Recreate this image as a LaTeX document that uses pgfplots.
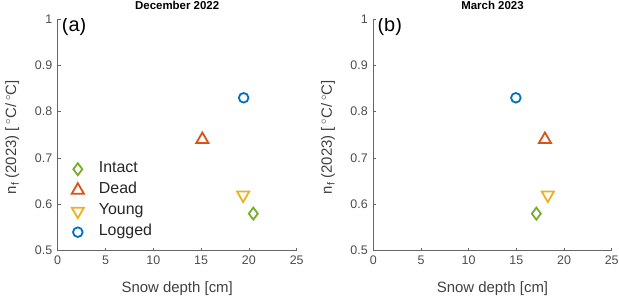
\documentclass[border=0pt]{standalone}
\usepackage{pgfplots}
\pgfplotsset{compat=1.18}
\usepackage{fontspec}
\setmainfont{Liberation Sans}
\definecolor{mblue}{rgb}{0,0.447,0.741}
\definecolor{mred}{rgb}{0.85,0.325,0.098}
\definecolor{myellow}{rgb}{0.929,0.694,0.125}
\definecolor{mgreen}{rgb}{0.466,0.674,0.188}
\pgfplotsset{
 every axis title/.style={at={(0.5,1)},anchor=base,yshift=9bp,font=\bfseries\fontsize{11.5}{13}\selectfont},
 every axis title shift/.style={yshift=0pt},
 myax/.style={
  scale only axis, width=239bp, height=231.7bp,
  xmin=0,xmax=25,ymin=0.5,ymax=1,
  xtick={0,5,10,15,20,25}, ytick={0.5,0.6,0.7,0.8,0.9,1},
  axis x line*=bottom, axis y line*=left,
  tick align=inside, major tick length=3bp,
  axis line style={black!60, line width=0.6bp},
  tick style={black!60,line width=0.6bp},
  ticklabel style={font=\fontsize{12.5}{13}\selectfont, text=black!70},
  yticklabel style={xshift=-2bp},
  xticklabel style={yshift=-2bp},
  /pgf/number format/assume math mode=true,
  xlabel={Snow depth [cm]},
  ylabel={n\textsubscript{f} (2023) [\,\textsuperscript{$\circ$}C/\,\textsuperscript{$\circ$}C]},
  label style={font=\fontsize{15}{16}\selectfont, text=black!75},
  xlabel style={at={(axis description cs:0.5,-0.163)},anchor=center},
  ylabel style={at={(axis description cs:-0.19,0.49)},anchor=center},
  every axis plot/.append style={only marks, line width=1.8bp},
 },
 intact/.style={mark=diamond, mark size=6bp, color=mgreen},
 dead/.style={mark=triangle, mark size=7bp, color=mred},
 young/.style={mark=triangle, mark size=7bp, mark options={rotate=180}, color=myellow},
 logged/.style={mark=o, mark size=4.8bp, color=mblue},
}
\begin{document}
\begin{tikzpicture}[x=1bp,y=1bp]
\begin{axis}[myax, at={(57.7bp,46.3bp)}, anchor=south west, title={December 2022},
  legend style={at={(axis description cs:0.058,0.398)}, anchor=north west, draw=none, fill=none, inner sep=0pt,
    font=\fontsize{16}{17}\selectfont, text=black!85,
    nodes={inner ysep=4bp, text height=10bp, text depth=3bp}},
  legend cell align=left]
\addplot[intact] coordinates {(20.46,0.58)};
\addlegendentry{\hspace{13bp}Intact}
\addplot[dead] coordinates {(15.13,0.74)};
\addlegendentry{\hspace{13bp}Dead}
\addplot[young] coordinates {(19.4,0.62)};
\addlegendentry{\hspace{13bp}Young}
\addplot[logged] coordinates {(19.45,0.83)};
\addlegendentry{\hspace{13bp}Logged}
\node[anchor=west, inner sep=0pt, font=\fontsize{20}{21}\selectfont] at (axis description cs:0.017,0.97) {(a)};
\end{axis}
\begin{axis}[myax, at={(373.3bp,46.3bp)}, anchor=south west, width=238.4bp, title={March 2023}]
\addplot[intact] coordinates {(17.1,0.58)};
\addplot[dead] coordinates {(18.0,0.74)};
\addplot[young] coordinates {(18.3,0.62)};
\addplot[logged] coordinates {(14.95,0.83)};
\node[anchor=west, inner sep=0pt, font=\fontsize{20}{21}\selectfont] at (axis description cs:0.017,0.97) {(b)};
\end{axis}
\pgfresetboundingbox
\path[use as bounding box] (0,0) rectangle (619,297);
\end{tikzpicture}
\end{document}
